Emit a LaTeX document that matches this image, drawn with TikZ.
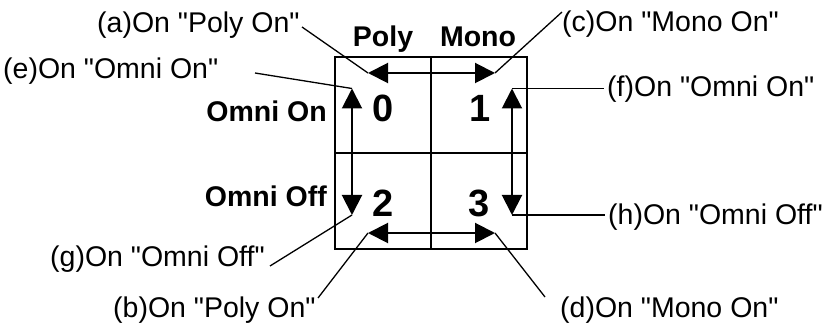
\documentclass[tikz,border=0pt]{standalone}
\usepackage{fontspec}
\setmainfont[Ligatures=TeXOff]{Liberation Sans}
\usetikzlibrary{arrows.meta}
\begin{document}
\begin{tikzpicture}[x=1pt,y=-1pt,
  lbl/.style={inner sep=0pt, anchor=base west, font=\fontsize{28.5}{34}\selectfont},
  hdr/.style={inner sep=0pt, font=\fontsize{28.5}{34}\selectfont\bfseries},
  digit/.style={inner sep=0pt, anchor=base, font=\fontsize{38}{44}\selectfont\bfseries},
  cell/.style={draw, line width=2pt, minimum width=96pt, minimum height=96pt, inner sep=0pt},
  dbl/.style={line width=2pt, {Triangle[length=20pt,width=20pt]}-{Triangle[length=20pt,width=20pt]}},
  leader/.style={line width=1.3pt}]
\useasboundingbox (0,0) rectangle (828,323);
% cells
\node[cell] (c0) at (383,105) {};
\node[cell] (c1) at (479,105) {};
\node[cell] (c2) at (383,201) {};
\node[cell] (c3) at (479,201) {};
% digits
\node[digit] (n0) at (383,122) {0};
\node[digit] (n1) at (480,122) {1};
\node[digit] (n2) at (383,217) {2};
\node[digit] (n3) at (479,217) {3};
% headers
\node[hdr, anchor=base] (poly) at (383,47) {Poly};
\node[hdr, anchor=base] (mono) at (478,47) {Mono};
\node[hdr, anchor=base east] (omon) at (327,122) {Omni On};
\node[hdr, anchor=base east] (omoff) at (327,207) {Omni Off};
% arrow tips
\coordinate (tl) at (368,73);
\coordinate (tr) at (495,73);
\coordinate (bl) at (368,233);
\coordinate (br) at (495,233);
\coordinate (lt) at (352,88.5);
\coordinate (lb) at (352,215);
\coordinate (rt) at (512,88.5);
\coordinate (rb) at (512,215);
\draw[dbl] (tl) -- (tr);
\draw[dbl] (bl) -- (br);
\draw[dbl] (lt) -- (lb);
\draw[dbl] (rt) -- (rb);
% labels
\node[lbl] (la) at (97,33) {(a)On "Poly On"};
\node[lbl] (lc) at (562,32) {(c)On "Mono On"};
\node[lbl] (le) at (3,79) {(e)On "Omni On"};
\node[lbl] (lf) at (607,97) {(f)On "Omni On"};
\node[lbl] (lg) at (50,267) {(g)On "Omni Off"};
\node[lbl] (lh) at (608,225) {(h)On "Omni Off"};
\node[lbl] (lb2) at (113,317) {(b)On "Poly On"};
\node[lbl] (ld) at (560,317) {(d)On "Mono On"};
% leader starts
\coordinate (a0) at (302,27);
\coordinate (c0s) at (562,12);
\coordinate (e0) at (255,73);
\coordinate (f0) at (604,88.5);
\coordinate (g0) at (270,266);
\coordinate (h0) at (605,215);
\coordinate (b0) at (318,298);
\coordinate (d0) at (545,297);
\draw[leader] (a0) -- (tl);
\draw[leader] (c0s) -- (tr);
\draw[leader] (e0) -- (lt);
\draw[leader] (rt) -- (f0);
\draw[leader] (g0) -- (lb);
\draw[leader] (rb) -- (h0);
\draw[leader] (b0) -- (bl);
\draw[leader] (d0) -- (br);
\end{tikzpicture}
\end{document}
